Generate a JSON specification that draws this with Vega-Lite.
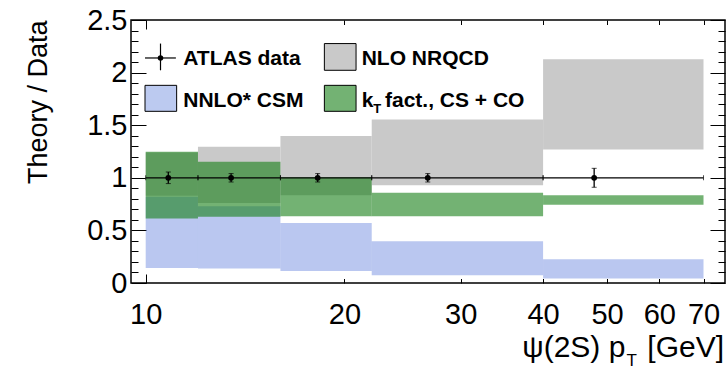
{
  "$schema": "https://vega.github.io/schema/vega-lite/v6.json",
  "width": 594,
  "height": 263,
  "autosize": {"type": "none"},
  "padding": {"left": 131, "top": 20, "right": 2, "bottom": 87},
  "background": "white",
  "config": {
    "view": {"stroke": "black", "strokeWidth": 1.5},
    "font": "Liberation Sans",
    "axis": {"labelFont": "Liberation Sans", "titleFont": "Liberation Sans", "labelColor": "black", "titleColor": "black", "tickColor": "black", "grid": false, "domain": false}
  },
  "datasets": {
    "nrqcd": [
      {"lo": 10, "hi": 12, "low": 0.83, "high": 1.24},
      {"lo": 12, "hi": 16, "low": 0.76, "high": 1.295},
      {"lo": 16, "hi": 22, "low": 0.835, "high": 1.397},
      {"lo": 22, "hi": 40, "low": 0.93, "high": 1.555},
      {"lo": 40, "hi": 70, "low": 1.27, "high": 2.128}
    ],
    "csm": [
      {"lo": 10, "hi": 12, "low": 0.143, "high": 0.82},
      {"lo": 12, "hi": 16, "low": 0.138, "high": 0.73},
      {"lo": 16, "hi": 22, "low": 0.114, "high": 0.571},
      {"lo": 22, "hi": 40, "low": 0.073, "high": 0.397},
      {"lo": 40, "hi": 70, "low": 0.042, "high": 0.225}
    ],
    "kt": [
      {"lo": 10, "hi": 12, "low": 0.613, "high": 1.248},
      {"lo": 12, "hi": 16, "low": 0.629, "high": 1.152},
      {"lo": 16, "hi": 22, "low": 0.635, "high": 1.005},
      {"lo": 22, "hi": 40, "low": 0.635, "high": 0.857},
      {"lo": 40, "hi": 70, "low": 0.745, "high": 0.835}
    ],
    "atlas": [
      {"pt": 10.82, "lo": 10, "hi": 12, "ratio": 1, "ylo": 0.945, "yhi": 1.055},
      {"pt": 13.47, "lo": 12, "hi": 16, "ratio": 1, "ylo": 0.96, "yhi": 1.04},
      {"pt": 18.22, "lo": 16, "hi": 22, "ratio": 1, "ylo": 0.96, "yhi": 1.04},
      {"pt": 26.75, "lo": 22, "hi": 40, "ratio": 1, "ylo": 0.96, "yhi": 1.04},
      {"pt": 47.8, "lo": 40, "hi": 70, "ratio": 1, "ylo": 0.91, "yhi": 1.09}
    ],
    "legend_text": [
      {"label": "ATLAS data", "x": 11.40, "y": 2.069},
      {"label": "NLO NRQCD", "x": 21.24, "y": 2.069},
      {"label": "NNLO* CSM", "x": 11.40, "y": 1.673},
      {"label": "k", "x": 21.24, "y": 1.673},
      {"label": "fact., CS + CO", "x": 23.04, "y": 1.673}
    ],
    "legend_box": [
      {"key": "nrqcd", "x1": 18.65, "x2": 20.83, "y1": 2.022, "y2": 2.276},
      {"key": "csm", "x1": 9.976, "x2": 11.14, "y1": 1.632, "y2": 1.879},
      {"key": "kt", "x1": 18.65, "x2": 20.83, "y1": 1.632, "y2": 1.879}
    ]
  },
  "resolve": {"axis": {"x": "independent", "y": "independent"}},
  "layer": [
    {
      "data": {"name": "nrqcd"},
      "mark": {"type": "rect", "fill": "#c9c9c9"},
      "encoding": {
        "x": {"field": "lo", "type": "quantitative", "scale": {"type": "log", "domain": [9.5, 75.45], "nice": false, "zero": false},
          "axis": {"orient": "bottom", "values": [10, 20, 30, 40, 50, 60, 70], "ticks": false, "labelFontSize": 29, "labelPadding": 40.6, "labelBaseline": "alphabetic", "labelOverlap": false, "labelFlush": false, "labelBound": false, "title": null}},
        "x2": {"field": "hi"},
        "y": {"field": "low", "type": "quantitative", "scale": {"domain": [0, 2.5], "nice": false, "zero": false},
          "axis": {"orient": "left", "values": [0, 0.5, 1, 1.5, 2, 2.5], "format": "~g", "ticks": false, "labelFontSize": 29, "labelPadding": 4, "labelAlign": "right", "labelBaseline": "middle", "labelOverlap": false, "labelFlush": false, "labelBound": false,
            "title": "Theory / Data", "titleFontSize": 27, "titleFontWeight": "normal", "titleAngle": 270, "titleX": -85, "titleY": 0, "titleAlign": "right", "titleBaseline": "alphabetic"}},
        "y2": {"field": "high"}
      }
    },
    {
      "data": {"name": "csm"},
      "mark": {"type": "rect", "fill": "#2f55d0", "fillOpacity": 0.33},
      "encoding": {
        "x": {"field": "lo", "type": "quantitative", "scale": {"type": "log", "domain": [9.5, 75.45], "nice": false, "zero": false},
          "axis": {"orient": "bottom", "values": [10], "labels": false, "tickSize": -9, "tickWidth": 1, "title": null}},
        "x2": {"field": "hi"},
        "y": {"field": "low", "type": "quantitative", "scale": {"domain": [0, 2.5], "nice": false, "zero": false},
          "axis": {"orient": "left", "values": [0, 0.5, 1, 1.5, 2, 2.5], "labels": false, "tickSize": -15, "tickWidth": 1, "title": null}},
        "y2": {"field": "high"}
      }
    },
    {
      "data": {"name": "kt"},
      "mark": {"type": "rect", "fill": "#157f15", "fillOpacity": 0.6},
      "encoding": {
        "x": {"field": "lo", "type": "quantitative", "scale": {"type": "log", "domain": [9.5, 75.45], "nice": false, "zero": false},
          "axis": {"orient": "bottom", "values": [20, 30, 40, 50, 60, 70], "labels": false, "tickSize": -4.5, "tickWidth": 1, "title": null}},
        "x2": {"field": "hi"},
        "y": {"field": "low", "type": "quantitative", "scale": {"domain": [0, 2.5], "nice": false, "zero": false},
          "axis": {"orient": "left", "values": [0.1, 0.2, 0.3, 0.4, 0.6, 0.7, 0.8, 0.9, 1.1, 1.2, 1.3, 1.4, 1.6, 1.7, 1.8, 1.9, 2.1, 2.2, 2.3, 2.4], "labels": false, "tickSize": -7, "tickWidth": 1, "title": null}},
        "y2": {"field": "high"}
      }
    },
    {
      "data": {"name": "atlas"},
      "mark": {"type": "errorbar", "ticks": {"size": 5, "color": "black"}, "rule": {"strokeWidth": 1.2, "color": "black"}, "color": "black"},
      "encoding": {
        "x": {"field": "lo", "type": "quantitative", "scale": {"type": "log", "domain": [9.5, 75.45], "nice": false, "zero": false}, "axis": null},
        "x2": {"field": "hi"},
        "y": {"field": "ratio", "type": "quantitative", "scale": {"domain": [0, 2.5], "nice": false, "zero": false}, "axis": null}
      }
    },
    {
      "data": {"name": "atlas"},
      "mark": {"type": "errorbar", "ticks": {"size": 5, "color": "black"}, "rule": {"strokeWidth": 1.3, "color": "black"}, "color": "black"},
      "encoding": {
        "x": {"field": "pt", "type": "quantitative", "scale": {"type": "log", "domain": [9.5, 75.45], "nice": false, "zero": false}, "axis": null},
        "y": {"field": "ylo", "type": "quantitative", "scale": {"domain": [0, 2.5], "nice": false, "zero": false}, "axis": null},
        "y2": {"field": "yhi"}
      }
    },
    {
      "data": {"name": "atlas"},
      "mark": {"type": "point", "filled": true, "size": 34, "color": "black", "opacity": 1},
      "encoding": {
        "x": {"field": "pt", "type": "quantitative", "scale": {"type": "log", "domain": [9.5, 75.45], "nice": false, "zero": false},
          "axis": {"orient": "top", "values": [10], "labels": false, "tickSize": -9, "tickWidth": 1, "title": null}},
        "y": {"field": "ratio", "type": "quantitative", "scale": {"domain": [0, 2.5], "nice": false, "zero": false},
          "axis": {"orient": "right", "values": [0, 0.5, 1, 1.5, 2, 2.5], "labels": false, "tickSize": -15, "tickWidth": 1, "title": null}}
      }
    },
    {
      "data": {"name": "legend_text"},
      "mark": {"type": "text", "font": "Liberation Sans", "fontWeight": "bold", "fontSize": 21, "align": "left", "baseline": "alphabetic", "color": "black"},
      "encoding": {
        "x": {"field": "x", "type": "quantitative", "scale": {"type": "log", "domain": [9.5, 75.45], "nice": false, "zero": false},
          "axis": {"orient": "top", "values": [20, 30, 40, 50, 60, 70], "labels": false, "tickSize": -4.5, "tickWidth": 1, "title": null}},
        "y": {"field": "y", "type": "quantitative", "scale": {"domain": [0, 2.5], "nice": false, "zero": false},
          "axis": {"orient": "right", "values": [0.1, 0.2, 0.3, 0.4, 0.6, 0.7, 0.8, 0.9, 1.1, 1.2, 1.3, 1.4, 1.6, 1.7, 1.8, 1.9, 2.1, 2.2, 2.3, 2.4], "labels": false, "tickSize": -7, "tickWidth": 1, "title": null}},
        "text": {"field": "label"}
      }
    },
    {
      "data": {"values": [{}]},
      "mark": {"type": "text", "font": "Liberation Sans", "fontWeight": "bold", "fontSize": 13, "align": "left", "baseline": "alphabetic", "color": "black", "text": "T"},
      "encoding": {
        "x": {"datum": 22.12, "type": "quantitative", "scale": {"type": "log", "domain": [9.5, 75.45], "nice": false, "zero": false}, "axis": null},
        "y": {"datum": 1.62, "type": "quantitative", "scale": {"domain": [0, 2.5], "nice": false, "zero": false}, "axis": null}
      }
    },
    {
      "data": {"name": "legend_box"},
      "mark": {"type": "rect", "stroke": "black", "strokeWidth": 1},
      "encoding": {
        "x": {"field": "x1", "type": "quantitative", "scale": {"type": "log", "domain": [9.5, 75.45], "nice": false, "zero": false}, "axis": null},
        "x2": {"field": "x2"},
        "y": {"field": "y1", "type": "quantitative", "scale": {"domain": [0, 2.5], "nice": false, "zero": false}, "axis": null},
        "y2": {"field": "y2"},
        "fill": {"field": "key", "type": "nominal", "scale": {"domain": ["nrqcd", "csm", "kt"], "range": ["#c9c9c9", "#bccaf0", "#73b273"]}, "legend": null}
      }
    },
    {
      "data": {"values": [{}]},
      "mark": {"type": "rule", "color": "black", "strokeWidth": 1.2},
      "encoding": {
        "x": {"datum": 9.976, "type": "quantitative", "scale": {"type": "log", "domain": [9.5, 75.45], "nice": false, "zero": false}, "axis": null},
        "x2": {"datum": 11.11},
        "y": {"datum": 2.139, "type": "quantitative", "scale": {"domain": [0, 2.5], "nice": false, "zero": false}, "axis": null}
      }
    },
    {
      "data": {"values": [{}]},
      "mark": {"type": "rule", "color": "black", "strokeWidth": 1.2},
      "encoding": {
        "x": {"datum": 10.53, "type": "quantitative", "scale": {"type": "log", "domain": [9.5, 75.45], "nice": false, "zero": false}, "axis": null},
        "y": {"datum": 2.022, "type": "quantitative", "scale": {"domain": [0, 2.5], "nice": false, "zero": false}, "axis": null},
        "y2": {"datum": 2.276}
      }
    },
    {
      "data": {"values": [{}]},
      "mark": {"type": "point", "filled": true, "size": 30, "color": "black", "opacity": 1},
      "encoding": {
        "x": {"datum": 10.53, "type": "quantitative", "scale": {"type": "log", "domain": [9.5, 75.45], "nice": false, "zero": false}, "axis": null},
        "y": {"datum": 2.139, "type": "quantitative", "scale": {"domain": [0, 2.5], "nice": false, "zero": false}, "axis": null}
      }
    },
    {
      "data": {"values": [{}]},
      "mark": {"type": "text", "font": "Liberation Sans", "fontSize": 30, "align": "right", "baseline": "alphabetic", "color": "black", "text": "ψ(2S) p"},
      "encoding": {
        "x": {"datum": 53.3, "type": "quantitative", "scale": {"type": "log", "domain": [9.5, 75.45], "nice": false, "zero": false}, "axis": null},
        "y": {"datum": -0.703, "type": "quantitative", "scale": {"domain": [0, 2.5], "nice": false, "zero": false}, "axis": null}
      }
    },
    {
      "data": {"values": [{}]},
      "mark": {"type": "text", "font": "Liberation Sans", "fontSize": 17, "align": "left", "baseline": "alphabetic", "color": "black", "text": "T"},
      "encoding": {
        "x": {"datum": 53.5, "type": "quantitative", "scale": {"type": "log", "domain": [9.5, 75.45], "nice": false, "zero": false}, "axis": null},
        "y": {"datum": -0.79, "type": "quantitative", "scale": {"domain": [0, 2.5], "nice": false, "zero": false}, "axis": null}
      }
    },
    {
      "data": {"values": [{}]},
      "mark": {"type": "text", "font": "Liberation Sans", "fontSize": 30, "align": "right", "baseline": "alphabetic", "color": "black", "text": "[GeV]"},
      "encoding": {
        "x": {"datum": 75.2, "type": "quantitative", "scale": {"type": "log", "domain": [9.5, 75.45], "nice": false, "zero": false}, "axis": null},
        "y": {"datum": -0.703, "type": "quantitative", "scale": {"domain": [0, 2.5], "nice": false, "zero": false}, "axis": null}
      }
    }
  ]
}
